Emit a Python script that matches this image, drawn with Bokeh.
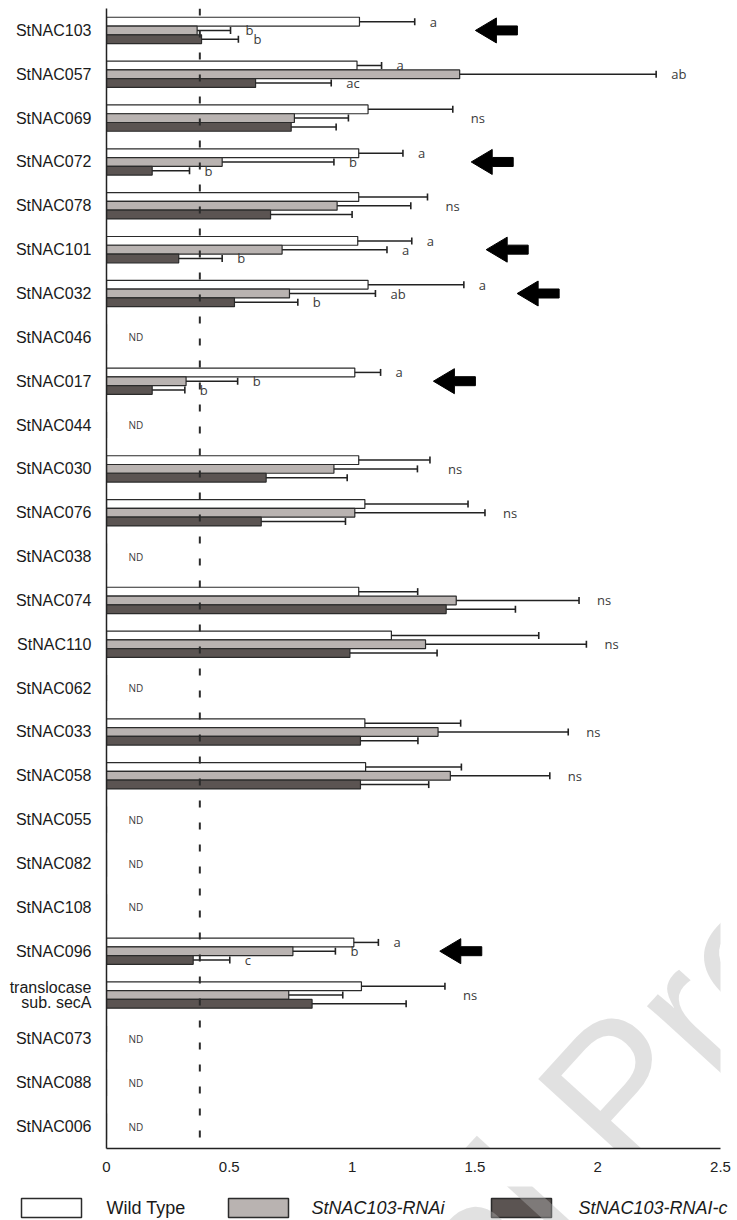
import numpy as np
from bokeh.plotting import figure
from bokeh.models import ColumnDataSource, Range1d, FactorRange, FixedTicker, Span
from bokeh.transform import dodge
from bokeh.layouts import column
from bokeh.embed import file_html
from bokeh.resources import INLINE
from bokeh.core.properties import value

# ---------------- data ----------------
categories = ["StNAC103", "StNAC057", "StNAC069", "StNAC072", "StNAC078", "StNAC101",
              "StNAC032", "StNAC046", "StNAC017", "StNAC044", "StNAC030", "StNAC076",
              "StNAC038", "StNAC074", "StNAC110", "StNAC062", "StNAC033", "StNAC058",
              "StNAC055", "StNAC082", "StNAC108", "StNAC096", "translocase\nsub. secA",
              "StNAC073", "StNAC088", "StNAC006"]

wild_type     = [1.03, 1.02, 1.065, 1.027, 1.027, 1.023, 1.065, 0, 1.011, 0, 1.027, 1.052, 0,
                 1.027, 1.16, 0, 1.052, 1.055, 0, 0, 0, 1.007, 1.038, 0, 0, 0]
wild_type_err = [0.225, 0.10, 0.345, 0.18, 0.28, 0.22, 0.39, 0, 0.105, 0, 0.29, 0.42, 0,
                 0.24, 0.60, 0, 0.39, 0.39, 0, 0, 0, 0.10, 0.34, 0, 0, 0]
rnai          = [0.369, 1.438, 0.765, 0.471, 0.939, 0.715, 0.745, 0, 0.324, 0, 0.926, 1.011, 0,
                 1.424, 1.299, 0, 1.35, 1.40, 0, 0, 0, 0.759, 0.742, 0, 0, 0]
rnai_err      = [0.136, 0.80, 0.22, 0.455, 0.30, 0.427, 0.35, 0, 0.21, 0, 0.34, 0.53, 0,
                 0.50, 0.655, 0, 0.53, 0.405, 0, 0, 0, 0.173, 0.22, 0, 0, 0]
rnai_c        = [0.387, 0.607, 0.752, 0.186, 0.668, 0.294, 0.521, 0, 0.186, 0, 0.65, 0.63, 0,
                 1.383, 0.991, 0, 1.034, 1.034, 0, 0, 0, 0.353, 0.837, 0, 0, 0]
rnai_c_err    = [0.15, 0.308, 0.183, 0.152, 0.332, 0.177, 0.258, 0, 0.133, 0, 0.33, 0.343, 0,
                 0.282, 0.355, 0, 0.234, 0.278, 0, 0, 0, 0.149, 0.383, 0, 0, 0]

sig_wild_type = ["a", "a", "", "a", "", "a", "a", "", "a", "", "", "", "", "", "", "", "", "",
                 "", "", "", "a", "", "", "", ""]
sig_rnai      = ["b", "ab", "", "b", "", "a", "ab", "", "b", "", "", "", "", "", "", "", "", "",
                 "", "", "", "b", "", "", "", ""]
sig_rnai_c    = ["b", "ac", "", "b", "", "b", "b", "", "b", "", "", "", "", "", "", "", "", "",
                 "", "", "", "c", "", "", "", ""]
row_note      = ["", "", "ns", "", "ns", "", "", "ND", "", "ND", "ns", "ns", "ND", "ns", "ns",
                 "ND", "ns", "ns", "ND", "ND", "ND", "", "ns", "ND", "ND", "ND"]

arrow_rows = ["StNAC103", "StNAC072", "StNAC101", "StNAC032", "StNAC017", "StNAC096"]
arrow_tip  = [1.502, 1.485, 1.546, 1.672, 1.331, 1.357]

threshold = 0.38
x_ticks = [0, 0.5, 1, 1.5, 2, 2.5]

series_names  = ["Wild Type", "StNAC103-RNAi", "StNAC103-RNAI-c"]
series_colors = ["#ffffff", "#b9b3b1", "#5b5452"]
watermark = "al Pre"

# ---------------- layout constants ----------------
W, H_MAIN, H_LEG = 737, 1186, 34
LEFT, RIGHT, TOP, BOTTOM = 106, 17, 8, 38
FRAME_W = W - LEFT - RIGHT
FRAME_H = H_MAIN - TOP - BOTTOM
N = len(categories)
XS = FRAME_W / 2.5          # px per x unit
YS = FRAME_H / N            # px per category
OFFSETS = [0.2, 0.0, -0.2]
BAR_H = 0.2
EDGE = "#2b2b2b"
FONT = "Liberation Sans"
FRAME_X0, FRAME_Y1 = LEFT, TOP + FRAME_H     # pixel of frame's bottom-left corner

WM_X, WM_Y = 437, 1287          # watermark anchor (page pixels)
WM_ANGLE, WM_SIZE = 47.6, "195px"
WM_COLOR, WM_ALPHA = "#b4b4b4", 0.4

p = figure(width=W, height=H_MAIN, output_backend="svg", toolbar_location=None,
           x_range=Range1d(0, 2.5), y_range=FactorRange(factors=list(reversed(categories)),
                                                        range_padding=0),
           min_border_left=LEFT, min_border_right=RIGHT, min_border_top=TOP,
           min_border_bottom=BOTTOM)
p.title.visible = False
p.outline_line_color = None
p.grid.visible = False

p.xaxis.ticker = FixedTicker(ticks=x_ticks)
p.xaxis.major_tick_line_color = None
p.xaxis.minor_tick_line_color = None
p.xaxis.axis_line_width = 1.5
p.xaxis.axis_line_color = "#222222"
p.xaxis.major_label_text_font = FONT
p.xaxis.major_label_text_font_size = "15px"
p.xaxis.major_label_text_color = "#222222"
p.xaxis.major_label_standoff = 7

p.yaxis.major_tick_line_color = None
p.yaxis.minor_tick_line_color = None
p.yaxis.axis_line_width = 1.5
p.yaxis.axis_line_color = "#222222"
p.yaxis.major_label_text_font = FONT
p.yaxis.major_label_text_font_size = "16px"
p.yaxis.major_label_text_color = "#1a1a1a"
p.yaxis.major_label_text_line_height = 0.9
p.yaxis.major_label_standoff = 9

src = ColumnDataSource(dict(cat=categories, wt=wild_type, rn=rnai, rc=rnai_c))
for key, off, col in zip(["wt", "rn", "rc"], OFFSETS, series_colors):
    p.hbar(y=dodge("cat", off, range=p.y_range), left=0, right=key, height=BAR_H,
           fill_color=col, line_color=EDGE, line_width=1.2, source=src)

# error bars + significance letters
ex0, ex1, ey = [], [], []
lx, ly, lt = [], [], []
series = [(wild_type, wild_type_err, sig_wild_type),
          (rnai, rnai_err, sig_rnai),
          (rnai_c, rnai_c_err, sig_rnai_c)]
row_y = [N - 1 - i + 0.5 for i in range(N)]
for (vals, errs, sigs), off in zip(series, OFFSETS):
    for i in range(N):
        if vals[i] > 0:
            ex0.append(vals[i]); ex1.append(vals[i] + errs[i]); ey.append(row_y[i] + off)
            if sigs[i]:
                lx.append(vals[i] + errs[i]); ly.append(row_y[i] + off); lt.append(sigs[i])

esrc = ColumnDataSource(dict(x0=ex0, x1=ex1, y=ey))
p.segment(x0="x0", y0="y", x1="x1", y1="y", line_color="#222222", line_width=1.5, source=esrc)
p.scatter(x="x1", y="y", marker="dash", angle=np.pi / 2, size=7, line_color="#222222",
          line_width=1.6, source=esrc)

p.text(x=lx, y=ly, text=lt, x_offset=15, text_align="left", text_baseline="middle",
       text_font=value("Open Sans"), text_font_size="13px", text_color="#3a3a3a")

# ns / ND notes
nsx, nsy, nst, ndx, ndy, ndt = [], [], [], [], [], []
for i in range(N):
    if row_note[i] == "ns":
        nsx.append(max(wild_type[i] + wild_type_err[i], rnai[i] + rnai_err[i],
                       rnai_c[i] + rnai_c_err[i]))
        nsy.append(row_y[i]); nst.append("ns")
    elif row_note[i] == "ND":
        ndx.append(0); ndy.append(row_y[i]); ndt.append("ND")
p.text(x=nsx, y=nsy, text=nst, x_offset=18, text_align="left", text_baseline="middle",
       text_font=value("Open Sans"), text_font_size="13px", text_color="#3a3a3a")
p.text(x=ndx, y=ndy, text=ndt, x_offset=22, text_align="left", text_baseline="middle",
       text_font=value("Open Sans"), text_font_size="10px", text_color="#3a3a3a")

# threshold dashed line
p.add_layout(Span(location=threshold, dimension="height", line_color="#2b2b2b",
                  line_width=2, line_dash="7 15"))

# arrows (block arrows pointing left)
axs, ays = [], []
for r, t in zip(arrow_rows, arrow_tip):
    cy = row_y[categories.index(r)]
    hx, sx = 21 / XS, 42 / XS
    hh, sh = 12.5 / YS, 4.5 / YS
    axs.append([t, t + hx, t + hx, t + sx, t + sx, t + hx, t + hx])
    ays.append([cy, cy + hh, cy + sh, cy + sh, cy - sh, cy - sh, cy - hh])
p.patches(xs=axs, ys=ays, fill_color="#000000", line_color="#000000", line_width=1)

# translucent watermark on top
p.text(x=[(WM_X - FRAME_X0) / XS], y=[(FRAME_Y1 - WM_Y) / YS], text=[watermark],
       angle=WM_ANGLE, angle_units="deg", text_font=value(FONT), text_font_size=WM_SIZE,
       text_color=WM_COLOR, text_alpha=WM_ALPHA, text_align="left",
       text_baseline="alphabetic")

# ---------------- legend strip (separate figure, pixel coordinates) ----------------
leg = figure(width=W, height=H_LEG, output_backend="svg", toolbar_location=None,
             x_range=Range1d(0, W), y_range=Range1d(0, H_LEG),
             x_axis_location=None, y_axis_location=None,
             min_border_left=0, min_border_right=0, min_border_top=0, min_border_bottom=0)
leg.title.visible = False
leg.outline_line_color = None
leg.grid.visible = False
for fig in (p, leg):
    try:
        fig.frame_align = False
    except Exception:
        pass

LEG_TOP = H_MAIN + H_LEG                     # page row of legend figure's bottom edge
box_left_px = [21, 228, 491]
box_w_px = 60
text_left_px = [106, 311, 578]
box_top_px, box_bot_px = 1198, 1217

leg.quad(left=box_left_px, right=[b + box_w_px for b in box_left_px],
         top=[LEG_TOP - box_top_px] * 3, bottom=[LEG_TOP - box_bot_px] * 3,
         fill_color=series_colors, line_color=EDGE, line_width=1.5)
leg.text(x=[text_left_px[0]], y=[LEG_TOP - (box_top_px + box_bot_px) / 2],
         text=[series_names[0]], text_align="left", text_baseline="middle",
         text_font=value(FONT), text_font_size="18px", text_color="#1a1a1a")
leg.text(x=text_left_px[1:], y=[LEG_TOP - (box_top_px + box_bot_px) / 2] * 2,
         text=series_names[1:], text_align="left", text_baseline="middle",
         text_font=value(FONT), text_font_size="18px", text_font_style="italic",
         text_color="#1a1a1a")
leg.text(x=[WM_X], y=[LEG_TOP - WM_Y], text=[watermark], angle=WM_ANGLE, angle_units="deg",
         text_font=value(FONT), text_font_size=WM_SIZE, text_color=WM_COLOR,
         text_alpha=WM_ALPHA, text_align="left", text_baseline="alphabetic")

layout = column(p, leg, spacing=0)
open("out.html", "w").write(file_html(layout, INLINE))
